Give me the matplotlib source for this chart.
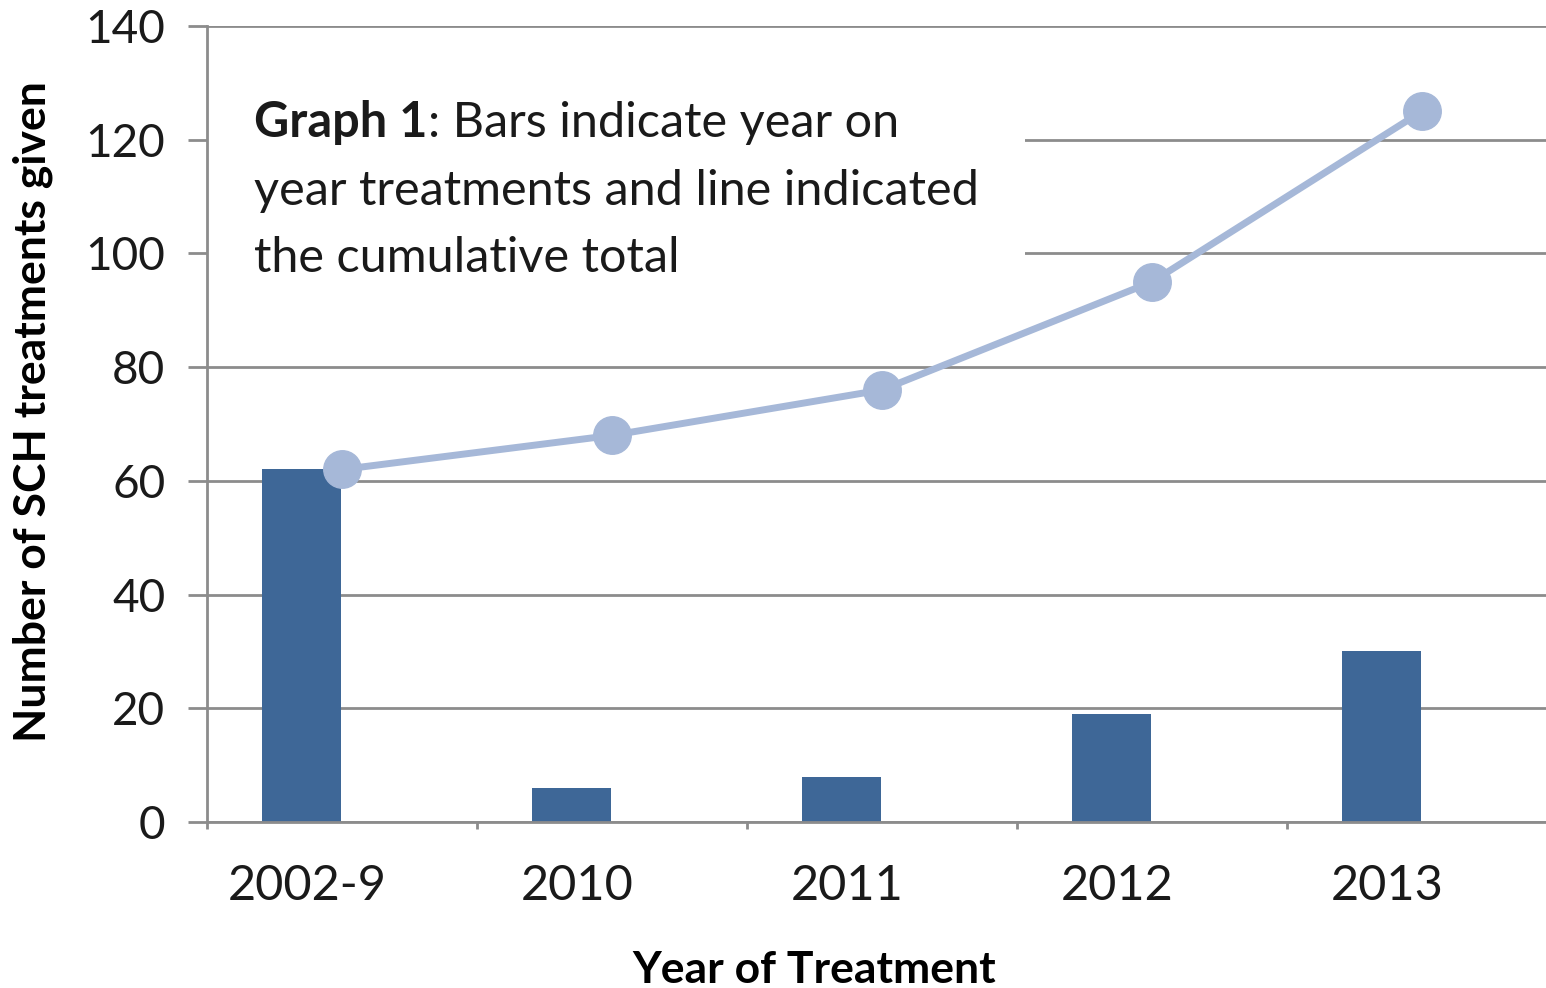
import matplotlib.pyplot as plt
from matplotlib.patches import Rectangle
import numpy as np

plt.rcParams["font.family"] = ["Lato", "DejaVu Sans"]

years = ["2002-9", "2010", "2011", "2012", "2013"]
per_year = [62, 6, 8, 19, 30]
cumulative = [62, 68, 76, 95, 125]

bar_color = "#3e6797"
line_color = "#a6b8d8"
grid_color = "#8c8c8c"
text_color = "#1a1a1a"

x = np.arange(len(years))

fig = plt.figure(figsize=(15.46, 9.88), dpi=100)
# axes run a little past the right edge, as in the cropped original
ax = fig.add_axes([207 / 1546, 166 / 988, 1350 / 1546, 796 / 988])

ax.bar(x - 0.15, per_year, width=0.29, color=bar_color, zorder=2)
ax.plot(x, cumulative, color=line_color, linewidth=5, marker="o",
        markersize=27, zorder=4, solid_capstyle="round")

ax.set_xlim(-0.5, len(years) - 0.5)
ax.set_ylim(0, 140)
ax.set_yticks(range(0, 141, 20))
ax.yaxis.grid(True, color=grid_color, linewidth=2, zorder=0)
ax.set_axisbelow(True)

for side in ["top", "right"]:
    ax.spines[side].set_visible(False)
for side in ["left", "bottom"]:
    ax.spines[side].set_color(grid_color)
    ax.spines[side].set_linewidth(2)

ax.tick_params(axis="y", direction="out", length=14, width=2, color=grid_color,
               labelsize=33, pad=16, labelcolor=text_color)
ax.set_xticks(x - 0.13)
ax.set_xticklabels(years)
ax.set_xticks(np.arange(len(years) + 1) - 0.5, minor=True)
ax.tick_params(axis="x", which="major", length=0, labelsize=35, pad=30,
               labelcolor=text_color)
ax.tick_params(axis="x", which="minor", direction="out", length=5, width=2,
               color=grid_color)

ax.set_ylabel("Number of SCH treatments given", fontsize=32, fontweight="bold")
ax.yaxis.label.set_va("center")
ax.yaxis.set_label_coords(-0.129, 0.515)
ax.set_xlabel("Year of Treatment", fontsize=32, fontweight="bold")
ax.xaxis.label.set_va("center")
ax.xaxis.set_label_coords(0.450, -0.186)

# white note box over the gridlines
ax.add_patch(Rectangle((0.0, 0.6), 0.606, 0.34, transform=ax.transAxes,
                       facecolor="white", edgecolor="none", zorder=1))

fs = 35
x0 = 0.035
t1 = ax.text(x0, 0.861, "Graph 1", transform=ax.transAxes, fontsize=fs,
             fontweight="bold", color=text_color, va="baseline", zorder=3)
fig.canvas.draw()
bb = t1.get_window_extent()
x_end = ax.transAxes.inverted().transform((bb.x1, bb.y0))[0]
ax.text(x_end, 0.861, ": Bars indicate year on", transform=ax.transAxes,
        fontsize=fs, color=text_color, va="baseline", zorder=3)
ax.text(x0, 0.775, "year treatments and line indicated", transform=ax.transAxes,
        fontsize=fs, color=text_color, va="baseline", zorder=3)
ax.text(x0, 0.691, "the cumulative total", transform=ax.transAxes,
        fontsize=fs, color=text_color, va="baseline", zorder=3)

fig.savefig("out.png", dpi=100)
